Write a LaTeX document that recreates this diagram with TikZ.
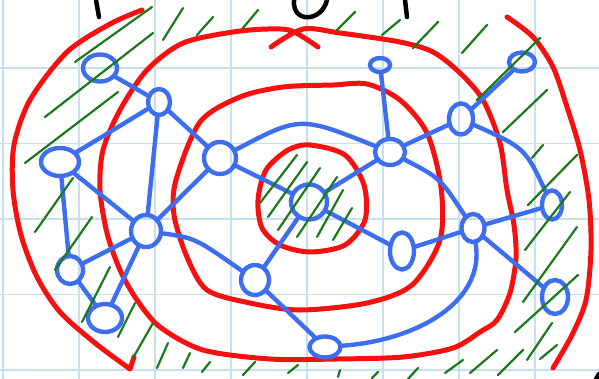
\documentclass[tikz,border=0pt]{standalone}
\usepackage{xcolor}
\usepackage{tikz}
\usetikzlibrary{positioning,shapes.geometric}
\definecolor{penblue}{HTML}{3E6EF0}
\definecolor{penred}{HTML}{F71010}
\definecolor{pengreen}{HTML}{1B7A1B}
\definecolor{gridc}{HTML}{C6E0F0}
\tikzset{
  vtx/.style={ellipse,draw=penblue,line width=4.4pt,inner sep=0pt},
  edge/.style={penblue,line width=4.4pt,line cap=round},
  layer/.style={penred,line width=5pt,line cap=round,line join=round},
  hatchline/.style={pengreen,line width=2.2pt,line cap=round},
  ink/.style={black,line width=4.5pt,line cap=round}
}
\newcommand{\vertex}[5]{%
  \node[vtx,minimum width=#4pt,minimum height=#5pt] (#1) at (#2,#3) {};
}
\newcommand{\hatch}[4]{%
  \draw[hatchline] (#1,#2) -- (#3,#4);
}

\begin{document}
\begin{tikzpicture}[x=1pt,y=-1pt]
  \useasboundingbox (0,0) rectangle (599,379);
  % paper grid
  \foreach \gx in {3,79,...,535} \draw[gridc,line width=1.5pt] (\gx,0) -- (\gx,379);
  \foreach \gy in {68,143.5,219,294.5,370} \draw[gridc,line width=1.5pt] (0,\gy) -- (599,\gy);

  % layers, from the centre out
  \draw[layer] plot[smooth cycle] coordinates {(310,145) (345,155) (364,185) (365,220) (345,245) (310,252) (280,245) (262,228) (258,200) (266,170) (288,150)};
  \draw[layer] plot[smooth cycle] coordinates {(283,87) (333,85) (367,84) (400,100) (427,133) (441,187) (440,240) (412,285) (367,303) (300,310) (250,303) (207,290) (187,257) (174,215) (176,180) (200,122) (240,97)};
  \draw[layer] plot[smooth] coordinates {(271,47) (303,29) (340,33) (400,42) (433,52) (460,73) (483,100) (500,143) (507,190) (514,225) (516,258) (510,293) (497,320) (480,332) (453,348) (403,357) (337,359) (270,359) (203,350) (160,327) (137,300) (120,270) (107,233) (100,190) (103,150) (120,110) (147,70) (183,43) (233,32) (268,29) (292,31) (318,47)};
  \draw[layer] plot[smooth] coordinates {(142,10) (110,24) (67,52) (30,100) (14,145) (13,190) (21,235) (37,277) (60,312) (95,343) (130,369)} -- (134,357);
  \draw[layer] plot[smooth] coordinates {(507,17) (533,37) (553,67) (567,107) (580,150) (589,200) (591,250) (586,300) (572,335) (553,368)};

  % vertices
  \vertex{a}{100}{68}{34}{27}
  \vertex{b}{159}{102}{22}{26}
  \vertex{c}{60}{162}{38}{28}
  \vertex{d}{220}{158}{32}{32}
  \vertex{e}{380}{65}{20}{14}
  \vertex{f}{390}{152}{30}{26}
  \vertex{g}{461}{119}{24}{31}
  \vertex{h}{522}{62}{26}{19}
  \vertex{s}{309}{202}{36}{35}
  \vertex{j}{146}{231}{30}{32}
  \vertex{k}{70}{270}{26}{28}
  \vertex{l}{105}{318}{34}{28}
  \vertex{m}{255}{280}{28}{30}
  \vertex{n}{402}{251}{24}{37}
  \vertex{o}{473}{228}{23}{28}
  \vertex{p}{552}{205}{20}{29}
  \vertex{q}{555}{297}{26}{34}
  \vertex{r}{325}{347}{31}{21}

  % edges
  \draw[edge] (a) -- (b);
  \draw[edge] (c) .. controls (110,132) .. (b);
  \draw[edge] (b) -- (d);
  \draw[edge] (b) -- (j);
  \draw[edge] (c) -- (k);
  \draw[edge] (c) -- (j);
  \draw[edge] (k) -- (j);
  \draw[edge] (j) -- (l);
  \draw[edge] (k) -- (l);
  \draw[edge] (j) -- (d);
  \draw[edge] (j) .. controls (195,238) .. (m);
  \draw[edge] (d) -- (s);
  \draw[edge] (d) .. controls (300,116) .. (f);
  \draw[edge] (e) -- (f);
  \draw[edge] (f) -- (g);
  \draw[edge] (f) -- (s);
  \draw[edge] (s) -- (m);
  \draw[edge] (s) -- (n);
  \draw[edge] (f) .. controls (440,178) .. (o);
  \draw[edge] (n) -- (o);
  \draw[edge] (o) -- (p);
  \draw[edge] (o) -- (q);
  \draw[edge] (o) .. controls (485,300) and (420,340) .. (r);
  \draw[edge] (m) -- (r);
  \draw[edge] (g) -- (h);
  \draw[edge] (g) .. controls (525,148) .. (p);

  % hatching
  \hatch{152}{7}{75}{62}
  \hatch{153}{33}{45}{117}
  \hatch{118}{92}{25}{163}
  \hatch{183}{8}{163}{40}
  \hatch{213}{17}{197}{35}
  \hatch{258}{10}{243}{28}
  \hatch{355}{12}{337}{30}
  \hatch{400}{20}{382}{35}
  \hatch{438}{22}{413}{48}
  \hatch{487}{25}{462}{53}
  \hatch{540}{38}{477}{100}
  \hatch{547}{90}{503}{132}
  \hatch{543}{145}{532}{158}
  \hatch{577}{155}{528}{205}
  \hatch{570}{192}{525}{250}
  \hatch{577}{227}{523}{302}
  \hatch{578}{275}{515}{332}
  \hatch{552}{323}{527}{360}
  \hatch{557}{345}{540}{359}
  \hatch{523}{350}{498}{375}
  \hatch{497}{350}{470}{373}
  \hatch{463}{360}{445}{373}
  \hatch{418}{368}{408}{379}
  \hatch{378}{372}{372}{378}
  \hatch{340}{370}{338}{377}
  \hatch{298}{365}{288}{373}
  \hatch{255}{362}{243}{375}
  \hatch{210}{362}{202}{372}
  \hatch{190}{353}{183}{368}
  \hatch{168}{343}{157}{368}
  \hatch{153}{323}{133}{358}
  \hatch{73}{178}{35}{232}
  \hatch{92}{217}{55}{270}
  \hatch{110}{267}{82}{322}
  \hatch{135}{303}{118}{337}
  \hatch{297}{155}{260}{203}
  \hatch{307}{162}{268}{217}
  \hatch{320}{168}{278}{230}
  \hatch{337}{177}{297}{237}
  \hatch{343}{190}{317}{237}
  \hatch{352}{208}{333}{240}

  % cut-off writing at the top
  \draw[ink] (96,0) -- (99,17);
  \draw[ink] (294,0) .. controls (292,24) and (322,22) .. (327,0);
  \draw[ink] (405,0) -- (407,17);
  \draw[ink] (596,379) -- (599,374);
\end{tikzpicture}
\end{document}
